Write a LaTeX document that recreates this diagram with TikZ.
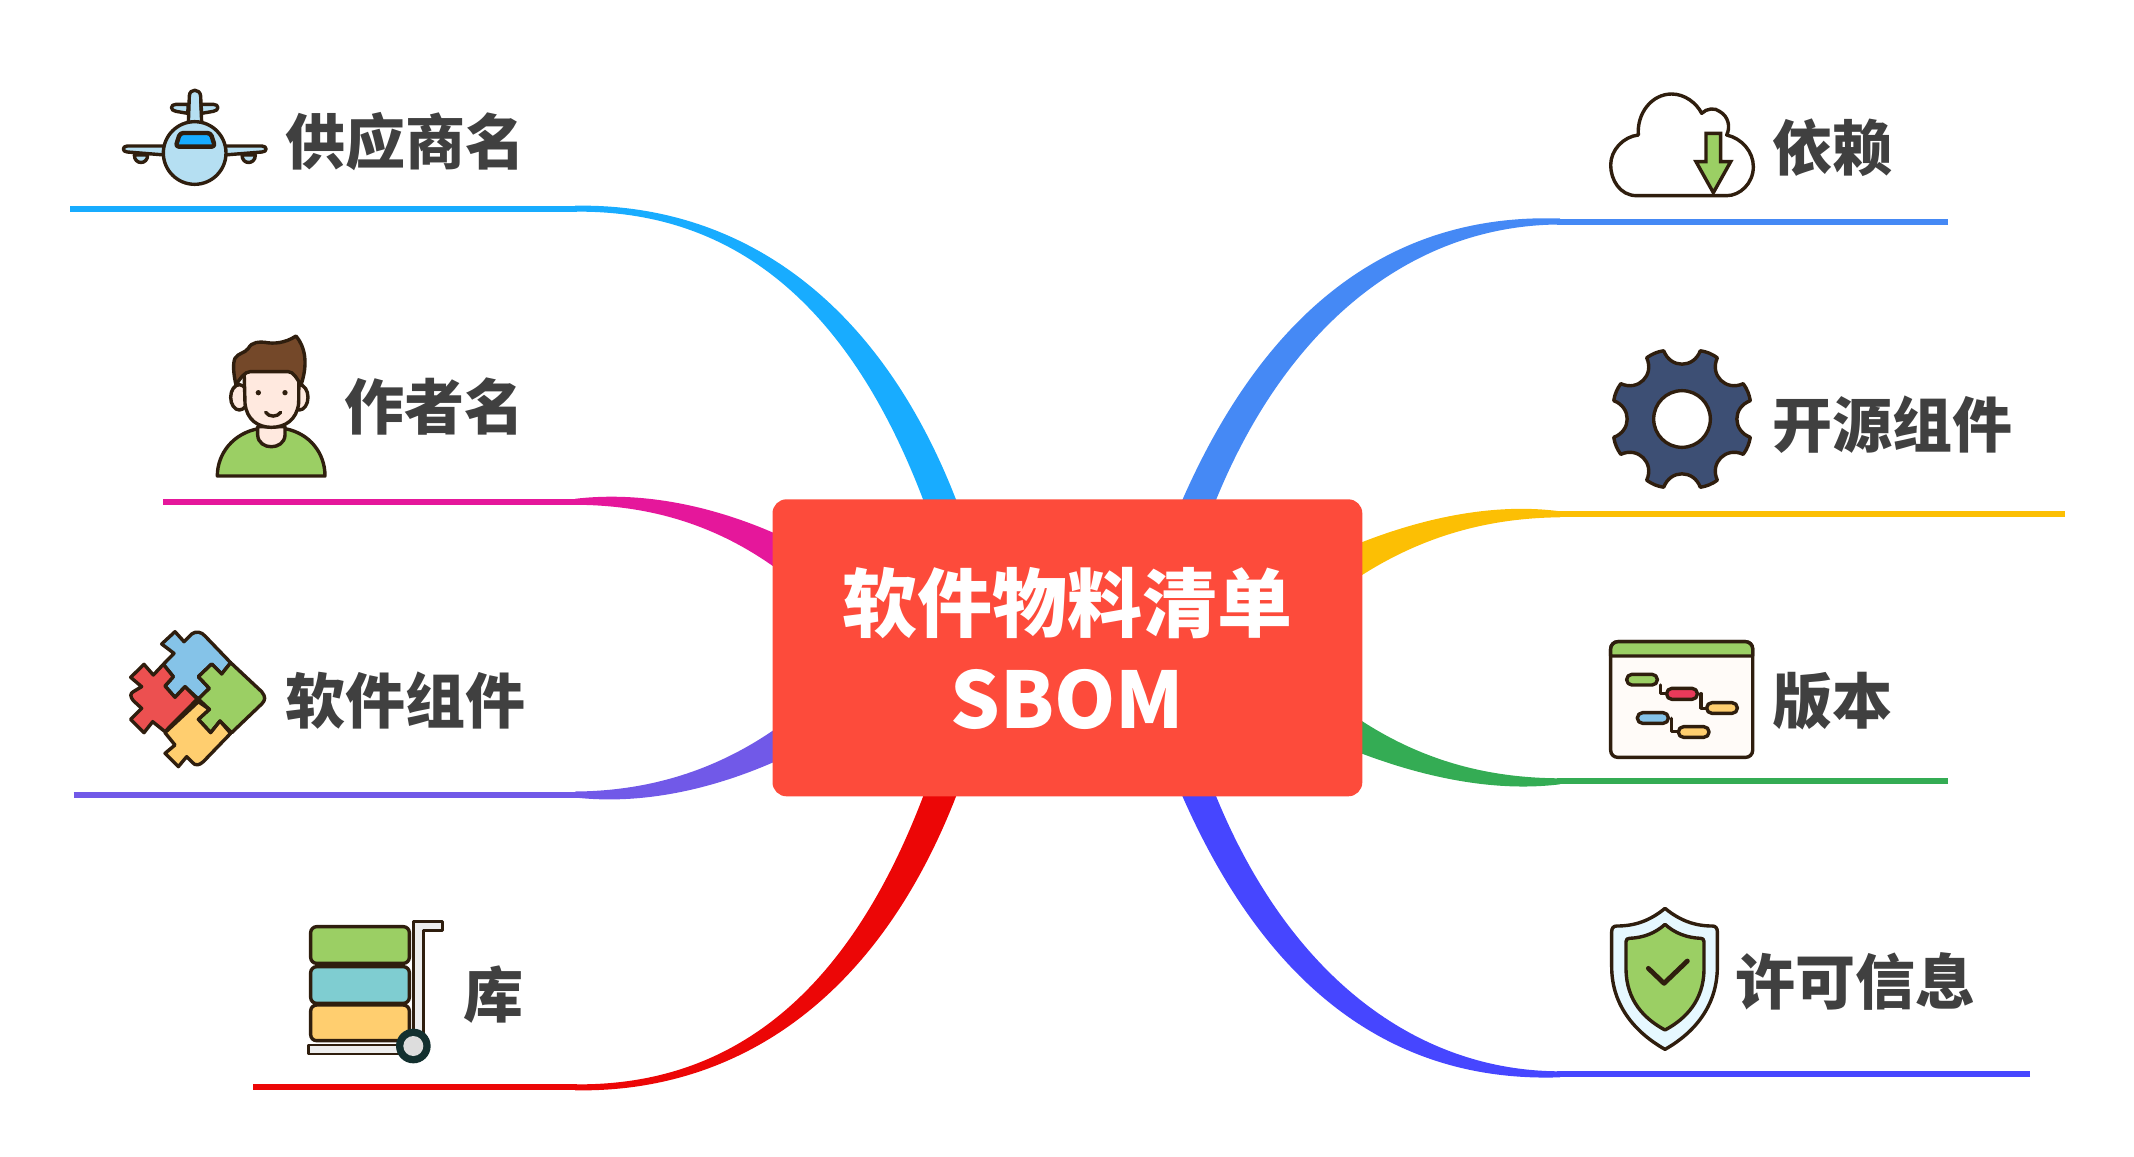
\documentclass[tikz,border=0pt]{standalone}
\usepackage{fontspec}
\setmainfont{Noto Sans CJK SC}
\definecolor{ol}{HTML}{2F1E0E}
\definecolor{lbl}{HTML}{404040}
\definecolor{rootc}{HTML}{FD4B3B}
\definecolor{cA}{HTML}{18ACFF}
\definecolor{cB}{HTML}{E5179B}
\definecolor{cC}{HTML}{7159E8}
\definecolor{cD}{HTML}{EC0606}
\definecolor{cE}{HTML}{4589F5}
\definecolor{cF}{HTML}{FCBF04}
\definecolor{cG}{HTML}{34AC54}
\definecolor{cH}{HTML}{4646FF}
\definecolor{skyb}{HTML}{B5DFF2}
\definecolor{grn}{HTML}{9BCF64}
\definecolor{skin}{HTML}{FFE9DF}
\definecolor{hair}{HTML}{744829}
\definecolor{pzb}{HTML}{85C3E8}
\definecolor{pzr}{HTML}{EC5050}
\definecolor{yel}{HTML}{FFCE6F}
\definecolor{cyn}{HTML}{7FCDD1}
\definecolor{gearc}{HTML}{3D4F74}
\definecolor{paper}{HTML}{FFFBF8}
\definecolor{shld}{HTML}{E6F8FF}
\definecolor{pillr}{HTML}{E83A5A}
\definecolor{wheel}{HTML}{13302F}
\definecolor{wheelc}{HTML}{DDDDDD}
\definecolor{steel}{HTML}{EEEEEE}
\tikzset{
  lab/.style={font=\bfseries\fontsize{30}{32}\selectfont,text=lbl,anchor=west,inner sep=0pt},
  stem/.style={line width=3pt},
  ic/.style={draw=ol,line width=1.7pt,line join=round,line cap=round},
  icthin/.style={draw=ol,line width=1.3pt,line join=round},
  zoomed/.style={x=0.16667pt,y=-0.16667pt}
}
\begin{document}
\begin{tikzpicture}[x=0.5pt,y=-0.5pt]
\useasboundingbox (0,0) rectangle (2134,1156);
% free ends and junctions of the branches
\coordinate (sA) at (70,208.7);   \coordinate (jA) at (577,208.7);
\coordinate (sB) at (163,501.8);  \coordinate (jB) at (577,501.8);
\coordinate (sC) at (73.5,794.5); \coordinate (jC) at (577,794.5);
\coordinate (sD) at (253,1087.3); \coordinate (jD) at (577,1087.3);
\coordinate (sE) at (1948,221.5); \coordinate (jE) at (1557,221.5);
\coordinate (sF) at (2065,514.3); \coordinate (jF) at (1557,514.3);
\coordinate (sG) at (1948,781.3); \coordinate (jG) at (1557,781.3);
\coordinate (sH) at (2030,1074.3);\coordinate (jH) at (1557,1074.3);
\foreach \n/\c in {A/cA,B/cB,C/cC,D/cD,E/cE,F/cF,G/cG,H/cH}
  \draw[stem,\c] (s\n) -- (j\n);
% tapered branches
\fill[cA] (575,205.7) .. controls (735,203) and (880,295) .. (960,510) -- (927,510) .. controls (850,300) and (730,210) .. (575,211.7) -- cycle;
\fill[cB] (575,498.8) .. controls (650,490) and (725,510) .. (785,538) -- (785,575) .. controls (720,525) and (650,505) .. (575,504.8) -- cycle;
\fill[cC] (575,797.5) .. controls (650,806) and (725,785) .. (785,757) -- (785,722) .. controls (720,770) and (650,791) .. (575,791.5) -- cycle;
\fill[cD] (575,1090.3) .. controls (735,1093) and (880,1001) .. (960,786) -- (927,786) .. controls (850,996) and (730,1086) .. (575,1084.3) -- cycle;
\fill[cE] (1560,218.5) .. controls (1395,213) and (1265,305) .. (1178,510) -- (1212,510) .. controls (1283,328) and (1410,225) .. (1560,224.5) -- cycle;
\fill[cF] (1560,511.3) .. controls (1490,502) and (1415,520) .. (1350,547) -- (1350,583) .. controls (1420,535) and (1490,518) .. (1560,517.3) -- cycle;
\fill[cG] (1560,784.3) .. controls (1490,793) and (1415,775) .. (1350,749) -- (1350,713) .. controls (1420,762) and (1490,778) .. (1560,778.3) -- cycle;
\fill[cH] (1560,1077.3) .. controls (1395,1083) and (1265,991) .. (1178,786) -- (1212,786) .. controls (1283,968) and (1410,1071) .. (1560,1071.3) -- cycle;
% root
\node[fill=rootc,rounded corners=7pt,minimum width=294.9pt,minimum height=148.5pt,inner sep=0pt,text=white,align=center,
  font=\bfseries\fontsize{37.5}{48.5}\selectfont] (root) at (1067.4,647.8) {\rule{0pt}{33pt}软件物料清单\\{\fontsize{39}{48.5}\selectfont SBOM}};
% labels
\node[lab] (n1) at (285.5,141.5) {供应商名};
\node[lab] (n2) at (344.5,407) {作者名};
\node[lab] (n3) at (285.5,701) {软件组件};
\node[lab] (n4) at (463.5,995) {库};
\node[lab] (n5) at (1772,148) {依赖};
\node[lab] (n6) at (1772,425) {开源组件};
\node[lab] (n7) at (1772,701) {版本};
\node[lab] (n8) at (1735.5,981) {许可信息};
% plane
\begin{scope}[shift={(100,70)},zoomed]
\draw[ic,fill=skyb] (265,160) -- (268,78) .. controls (268,55) and (300,55) .. (302,78) -- (305,160) -- cycle;
\draw[ic,fill=skyb] (265,103) -- (228,103) .. controls (210,103) and (210,122) .. (228,124) -- (263,130) -- cycle;
\draw[ic,fill=skyb] (303,103) -- (340,103) .. controls (358,103) and (358,122) .. (340,124) -- (305,130) -- cycle;
\draw[ic,fill=skyb] (103,255) .. controls (103,285) and (143,285) .. (143,255) -- cycle;
\draw[ic,fill=skyb] (426,255) .. controls (426,285) and (466,285) .. (466,255) -- cycle;
\draw[ic,fill=skyb] (195,228) -- (82,228) .. controls (66,228) and (66,246) .. (82,246) -- (195,255) -- cycle;
\draw[ic,fill=skyb] (373,228) -- (486,228) .. controls (502,228) and (502,246) .. (486,246) -- (373,255) -- cycle;
\draw[ic,fill=skyb] (284,249) ellipse[x radius=94,y radius=94];
\draw[ic,fill=cA,rounded corners=1.6pt,line width=2.2pt] (240,189) -- (332,189) -- (345,230) -- (227,230) -- cycle;
\end{scope}
% person
\begin{scope}[shift={(200,320)},zoomed]
\draw[ic,fill=grn] (52,468) -- (375,468) .. controls (375,400) and (330,340) .. (255,326) -- (175,326) .. controls (100,340) and (52,400) .. (52,468) -- cycle;
\draw[ic,fill=skin] (173,320) -- (173,345) .. controls (175,392) and (253,392) .. (255,345) -- (255,320) -- cycle;
\draw[ic,fill=skin] (118,232) ellipse[x radius=26,y radius=38];
\draw[ic,fill=skin] (298,232) ellipse[x radius=26,y radius=38];
\draw[ic,fill=skin] (132,140) -- (135,250) .. controls (140,300) and (175,322) .. (214,322) .. controls (255,322) and (290,300) .. (296,250) -- (297,140) -- cycle;
\draw[ic,fill=hair] (108,195) .. controls (100,160) and (98,130) .. (105,115) .. controls (115,98) and (135,100) .. (145,85) .. controls (155,65) and (180,65) .. (195,67) .. controls (220,72) and (255,70) .. (288,48) .. controls (315,80) and (325,130) .. (303,195) .. controls (290,175) and (280,155) .. (265,155) -- (150,155) .. controls (135,155) and (120,175) .. (108,195) -- cycle;
\fill[ol] (175,218) circle[radius=8] (255,218) circle[radius=8];
\draw[ic] (197,277) .. controls (207,292) and (232,292) .. (242,277);
\end{scope}
% puzzle
\begin{scope}[shift={(120,620)},zoomed]
\draw[ic,fill=pzb] (165,35) -- (192,65) -- (215,42) .. controls (228,32) and (245,36) .. (255,48) -- (332,128) -- (305,162) -- (275,132) -- (235,170) -- (268,205) -- (235,237) -- (195,200) -- (165,232) -- (135,198) -- (160,170) -- (130,133) -- (162,100) -- (125,72) -- cycle;
\draw[ic,fill=pzr] (72,133) -- (100,165) -- (130,133) -- (160,170) -- (135,198) -- (165,232) -- (195,200) -- (232,237) -- (135,335) -- (98,305) -- (72,338) -- (32,298) -- (65,265) -- (40,242) .. controls (30,230) and (30,220) .. (40,215) -- (65,200) -- (32,172) -- cycle;
\draw[ic,fill=grn] (332,128) -- (425,215) .. controls (437,230) and (437,240) .. (425,252) -- (335,338) -- (300,303) -- (272,338) -- (235,298) -- (268,268) -- (235,237) -- (268,205) -- (235,170) -- (275,132) -- (305,162) -- cycle;
\draw[ic,fill=yel] (235,245) -- (268,268) -- (235,298) -- (272,338) -- (300,303) -- (332,340) -- (250,425) .. controls (238,437) and (225,437) .. (218,428) -- (200,410) -- (175,440) -- (135,400) -- (165,375) -- (135,338) -- cycle;
\end{scope}
% trolley
\begin{scope}[shift={(290,910)},zoomed]
\draw[icthin,fill=steel] (370,35) -- (458,35) -- (458,62) -- (400,62) -- (400,385) -- (370,385) -- cycle;
\draw[icthin,fill=steel] (55,405) -- (340,405) -- (340,432) -- (55,432) -- cycle;
\draw[ic,fill=grn,rounded corners=3pt] (62,50) rectangle (358,160);
\draw[ic,fill=cyn,rounded corners=3pt] (62,170) rectangle (358,280);
\draw[ic,fill=yel,rounded corners=3pt] (62,285) rectangle (358,392);
\fill[wheel] (370,408) circle[radius=52];
\fill[wheelc] (370,408) circle[radius=30];
\end{scope}
% cloud
\begin{scope}[shift={(1600,80)},zoomed]
\draw[ic,fill=white] (110,347) .. controls (60,347) and (32,300) .. (32,255) .. controls (32,210) and (70,170) .. (115,165) .. controls (110,100) and (155,42) .. (215,42) .. controls (255,42) and (290,70) .. (305,100) .. controls (320,85) and (345,82) .. (360,95) .. controls (385,110) and (392,140) .. (380,165) .. controls (425,175) and (460,215) .. (460,260) .. controls (460,310) and (420,347) .. (380,347) -- cycle;
\draw[ic,fill=grn,line cap=butt,line join=miter] (318,160) -- (362,160) -- (362,245) -- (392,245) -- (340,338) -- (288,245) -- (318,245) -- cycle;
\end{scope}
% gear
\begin{scope}[shift={(1682,419)},zoomed]
\draw[ic,fill=gearc] (-15:212) \foreach \a in {0,45,...,315} { .. controls (\a-13:155) and (\a+13:155) .. (\a+15:212) .. controls (\a+20:215) and (\a+25:215) .. (\a+30:212) } -- cycle;
\draw[ic,fill=white] (0,0) circle[radius=85];
\end{scope}
% gantt
\begin{scope}[shift={(1600,630)},zoomed]
\draw[ic,fill=paper,rounded corners=3.5pt] (32,35) rectangle (458,382);
\draw[ic,fill=grn] (32,78) -- (32,57) .. controls (32,45) and (42,35) .. (54,35) -- (436,35) .. controls (448,35) and (458,45) .. (458,57) -- (458,78) -- cycle;
\draw[ic,fill=grn,rounded corners=2.6pt] (80,133) rectangle (172,165);
\draw[ic,fill=pillr,rounded corners=2.6pt] (200,175) rectangle (292,208);
\draw[ic,fill=yel,rounded corners=2.6pt] (320,218) rectangle (412,250);
\draw[ic,fill=pzb,rounded corners=2.6pt] (112,248) rectangle (205,280);
\draw[ic,fill=yel,rounded corners=2.6pt] (235,290) rectangle (327,322);
\draw[ic] (182,165) -- (182,191) -- (198,191);
\draw[ic] (303,191) -- (303,235) -- (318,235);
\draw[ic] (215,265) -- (215,305) -- (233,305);
\end{scope}
% shield
\begin{scope}[shift={(1600,900)},zoomed]
\draw[ic,fill=shld] (195,25) .. controls (150,62) and (105,78) .. (50,78) .. controls (40,78) and (35,85) .. (35,95) -- (35,200) .. controls (35,320) and (110,400) .. (195,448) .. controls (280,400) and (352,320) .. (352,200) -- (352,95) .. controls (352,85) and (347,78) .. (337,78) .. controls (285,78) and (240,62) .. (195,25) -- cycle;
\draw[ic,fill=grn] (195,73) .. controls (165,100) and (130,113) .. (88,115) .. controls (82,115) and (78,118) .. (78,125) -- (78,210) .. controls (80,300) and (130,355) .. (195,390) .. controls (260,355) and (310,300) .. (312,210) -- (312,125) .. controls (312,118) and (308,115) .. (302,115) .. controls (260,113) and (225,100) .. (195,73) -- cycle;
\draw[ic,line width=2.4pt] (145,205) -- (192,250) -- (262,183);
\end{scope}
\end{tikzpicture}
\end{document}
